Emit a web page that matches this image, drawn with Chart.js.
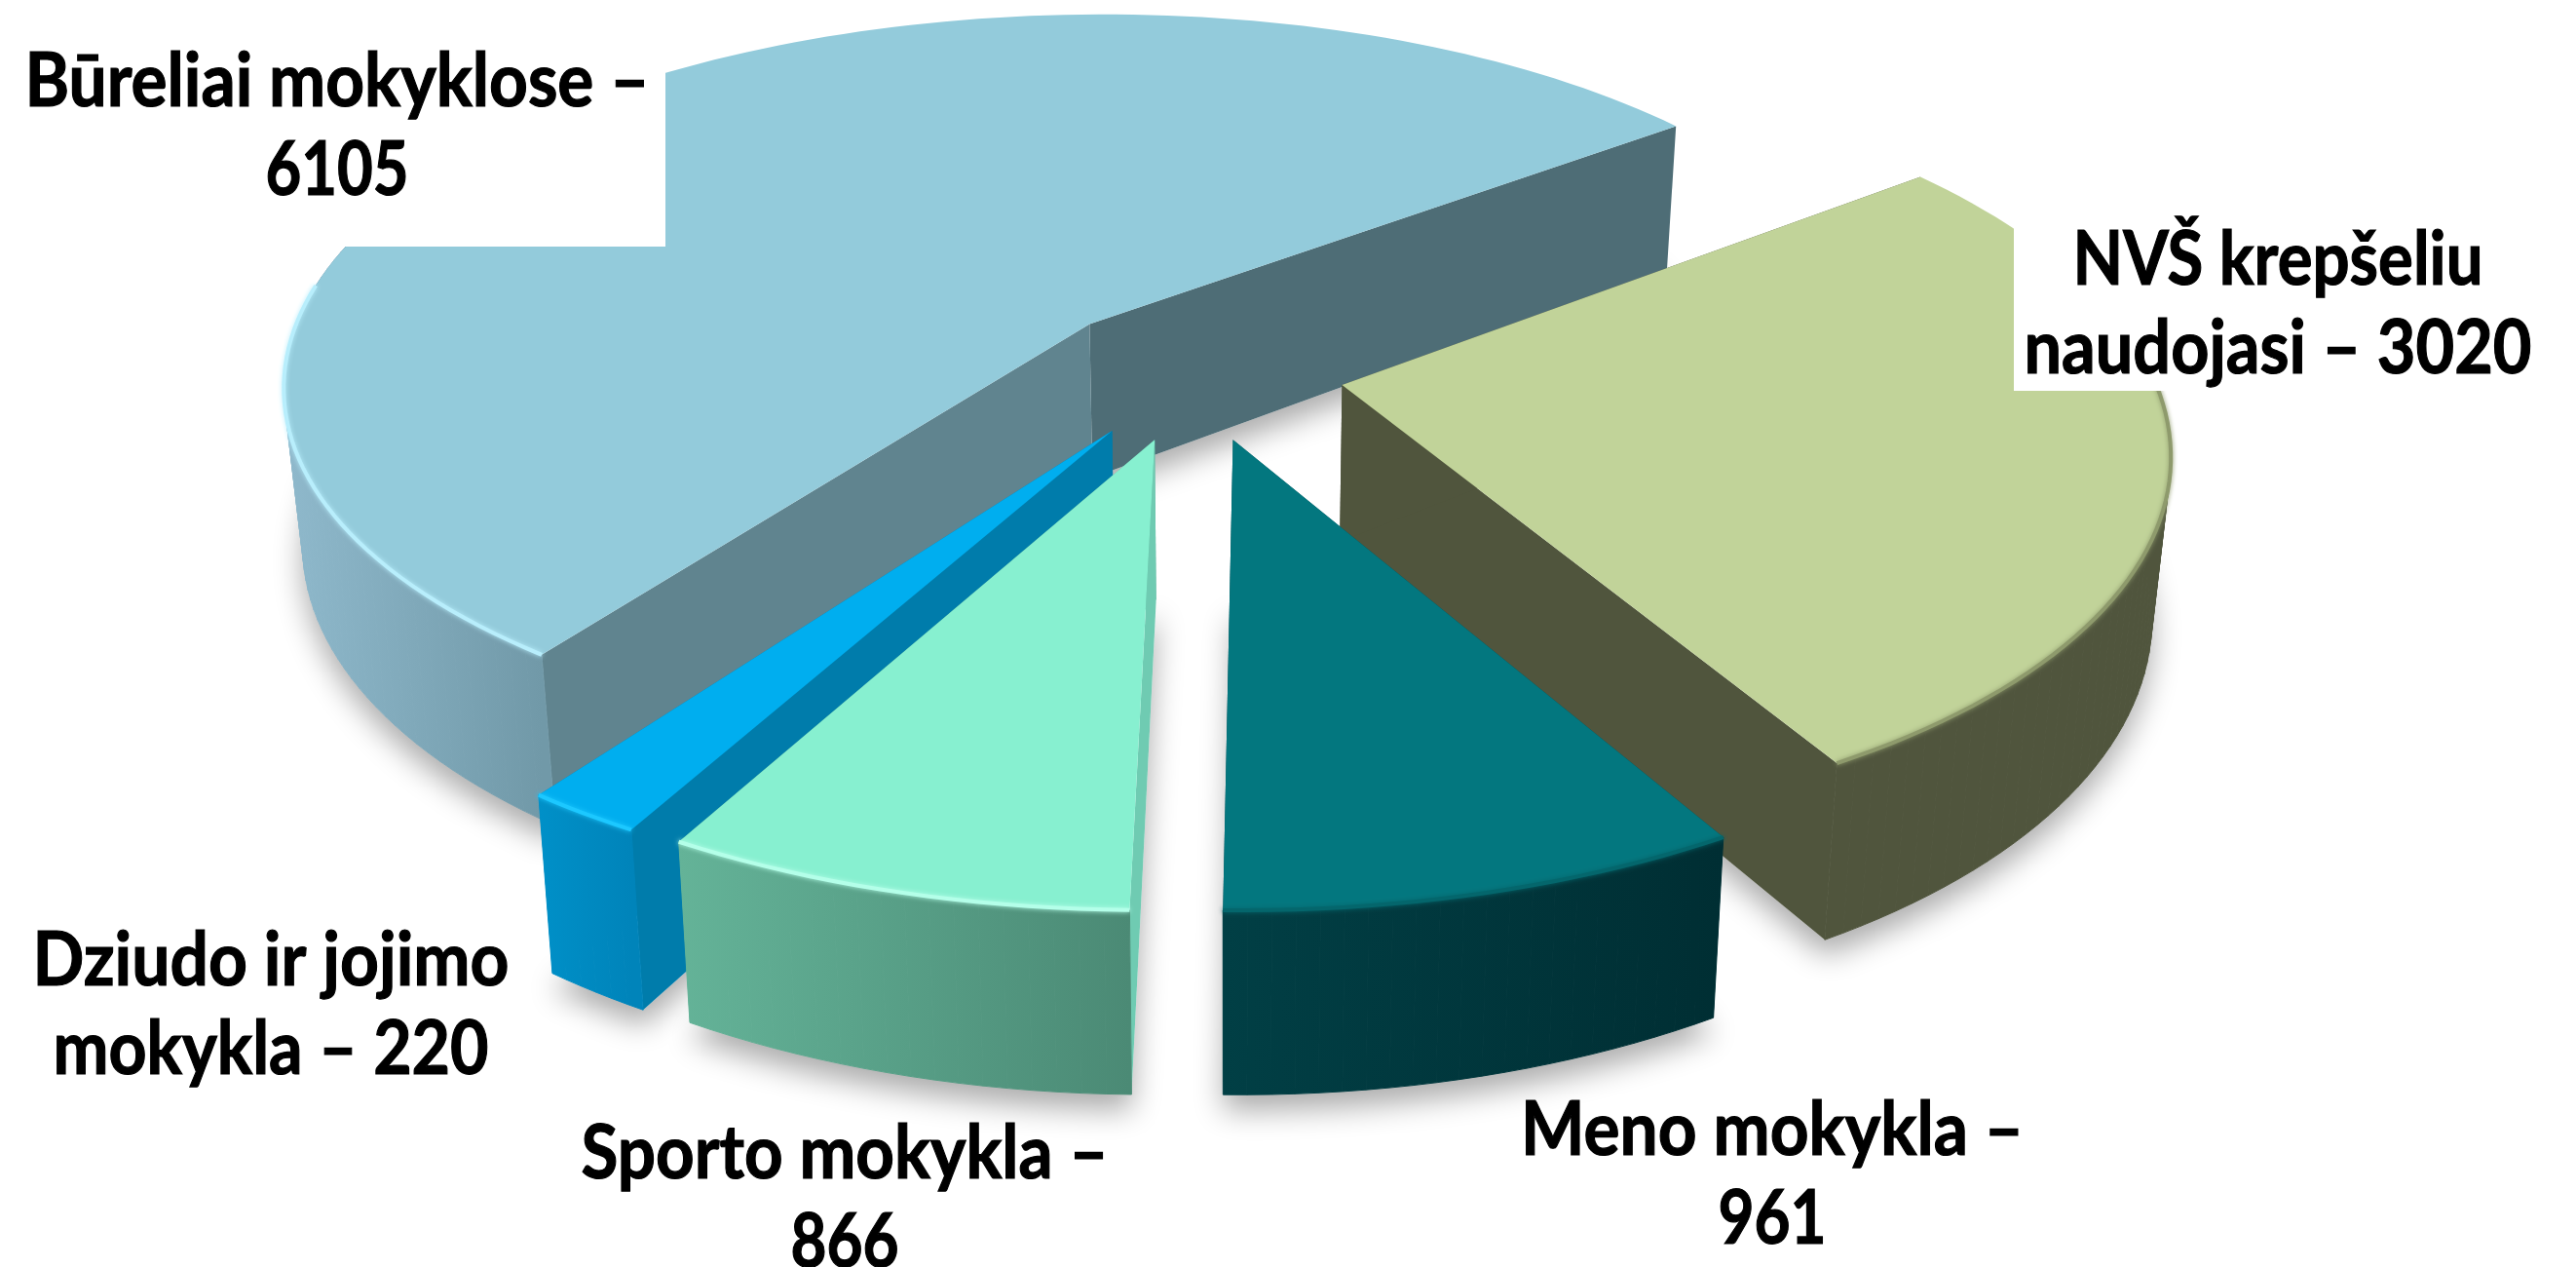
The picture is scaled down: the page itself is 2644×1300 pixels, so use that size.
<!DOCTYPE html>
<html>
<head>
<meta charset="utf-8">
<style>
html, body { margin: 0; padding: 0; background: #fff; }
canvas { display: block; }
</style>
<script src="https://cdn.jsdelivr.net/npm/chart.js@4"></script>
</head>
<body>
<canvas id="pie3d" width="2644" height="1300"></canvas>
<script>
const categories = ['Būreliai mokyklose', 'NVŠ krepšeliu naudojasi', 'Meno mokykla', 'Sporto mokykla', 'Dziudo ir jojimo mokykla'];
const values = [6105, 3020, 961, 866, 220];

const labelLines = [
    ['Būreliai mokyklose –', '6105'],
    ['NVŠ krepšeliu', 'naudojasi – 3020'],
    ['Meno mokykla –', '961'],
    ['Sporto mokykla –', '866'],
    ['Dziudo ir jojimo', 'mokykla – 220']
];
const labelPos = [[346, 84], [2338, 267], [1819, 1160], [867, 1184], [278, 986]];
const labelWidth = [[641, 147], [421, 521], [516, 111], [541, 111], [489, 447]];

const topColors = ['#93CBDB', '#C1D399', '#03777F', '#87F0D0', '#00AEEF'];
const startWall = ['#60848F', '#50553D', '#02464C', '#6FCBB2', '#007CAB'];
const endWall = ['#4E6D76', '#50553D', '#02464C', '#5FB09A', '#007CAB'];
const rimFrom = ['#8FB9CC', '#50553D', '#013F45', '#64B398', '#0090C8'];
const rimTo = ['#7199A8', '#50553D', '#002E33', '#4B8A75', '#0084BA'];
const bevel = ['#B8EEFC', '#8E9A6C', '#04666C', '#B4FFE9', '#1CC8FF'];
const drawOrder = [0, 1, 4, 3, 2];

// white boxes behind the two upper labels, they cut into the slices
const labelBoxes = [[0, 0, 683, 253], [2067, 225, 577, 176]];

// perspective of the pie plane
const view = { cx: 1226, cy: 381, rx: 831, ry: 382, persp: 0.1575, depth: 160, nadirX: 1260, shrink: 0.98 };

function project(X, Y) {
    const p = 1 / (1 + view.persp * Y);
    return { x: view.cx + view.rx * X * p, y: view.cy - view.ry * Y * p, p: p };
}

function lower(pt) {
    return {
        x: view.nadirX + (pt.x - view.nadirX) * view.shrink,
        y: pt.y + view.depth * (1 + 0.8 * (pt.p - 1))
    };
}

function sliceShape(arc) {
    const a = arc.getProps(['startAngle', 'endAngle', 'outerRadius'], true);
    const mid = (a.startAngle + a.endAngle) / 2;
    const off = arc.options.offset / a.outerRadius;
    const ox = off * Math.cos(mid);
    const oy = off * Math.sin(mid);
    const rim = [];
    const steps = Math.max(6, Math.round((a.endAngle - a.startAngle) * 40));
    for (let i = 0; i <= steps; i++) {
        const t = a.startAngle + (a.endAngle - a.startAngle) * i / steps;
        const pt = project(ox + Math.cos(t), -(oy + Math.sin(t)));
        pt.front = Math.sin(t) > -0.25;
        pt.lit = Math.sin(t) > -0.12;
        rim.push(pt);
    }
    return { apex: project(ox, -oy), rim: rim };
}

function poly(ctx, pts, fill) {
    ctx.beginPath();
    pts.forEach((p, i) => (i ? ctx.lineTo(p.x, p.y) : ctx.moveTo(p.x, p.y)));
    ctx.closePath();
    ctx.fillStyle = fill;
    ctx.fill();
}

const pie3d = {
    id: 'pie3d',
    beforeDatasetDraw(chart) {
        const ctx = chart.ctx;
        const arcs = chart.getDatasetMeta(0).data;
        const shapes = arcs.map(sliceShape);

        // soft floor shadow first so it never falls on another slice
        ctx.save();
        ctx.shadowColor = 'rgba(0,0,0,0.33)';
        ctx.shadowBlur = 30;
        ctx.shadowOffsetY = 16;
        shapes.forEach(s => {
            poly(ctx, [lower(s.apex)].concat(s.rim.map(lower)), '#fff');
        });
        ctx.restore();

        drawOrder.forEach(i => {
            const s = shapes[i];
            const first = s.rim[0];
            const last = s.rim[s.rim.length - 1];
            poly(ctx, [s.apex, last, lower(last), lower(s.apex)], endWall[i]);
            poly(ctx, [s.apex, first, lower(first), lower(s.apex)], startWall[i]);

            const front = s.rim.filter(p => p.front);
            if (front.length > 1) {
                const xs = front.map(p => p.x);
                const grad = ctx.createLinearGradient(Math.min(...xs), 0, Math.max(...xs), 0);
                grad.addColorStop(0, rimFrom[i]);
                grad.addColorStop(1, rimTo[i]);
                // one quad per step, the outline folds over at the far left and right
                ctx.strokeStyle = grad;
                ctx.lineWidth = 1;
                for (let k = 0; k < front.length - 1; k++) {
                    poly(ctx, [front[k], front[k + 1], lower(front[k + 1]), lower(front[k])], grad);
                    ctx.stroke();
                }
            }

            poly(ctx, [s.apex].concat(s.rim), topColors[i]);

            const lit = s.rim.filter(p => p.lit);
            if (lit.length > 1) {
                ctx.save();
                ctx.beginPath();
                lit.forEach((p, k) => (k ? ctx.lineTo(p.x, p.y) : ctx.moveTo(p.x, p.y)));
                ctx.strokeStyle = bevel[i];
                ctx.lineWidth = 4;
                ctx.shadowColor = bevel[i];
                ctx.shadowBlur = 5;
                ctx.stroke();
                ctx.restore();
            }
        });

        ctx.fillStyle = '#fff';
        labelBoxes.forEach(b => ctx.fillRect(b[0], b[1], b[2], b[3]));

        ctx.fillStyle = '#000';
        ctx.strokeStyle = '#000';
        ctx.lineWidth = 1.2;
        ctx.font = 'bold 76px Lato';
        ctx.textAlign = 'center';
        ctx.textBaseline = 'middle';
        labelLines.forEach((lines, i) => {
            lines.forEach((line, k) => {
                ctx.fillText(line, labelPos[i][0], labelPos[i][1] + k * 91, labelWidth[i][k]);
                ctx.strokeText(line, labelPos[i][0], labelPos[i][1] + k * 91, labelWidth[i][k]);
            });
        });
        return false;
    }
};

new Chart(document.getElementById('pie3d').getContext('2d'), {
    type: 'pie',
    data: {
        labels: categories,
        datasets: [{ data: values, offset: 110, borderWidth: 0, backgroundColor: topColors }]
    },
    options: {
        responsive: false,
        animation: false,
        rotation: 216,
        plugins: { legend: { display: false }, tooltip: { enabled: false } }
    },
    plugins: [pie3d]
});
</script>
</body>
</html>
